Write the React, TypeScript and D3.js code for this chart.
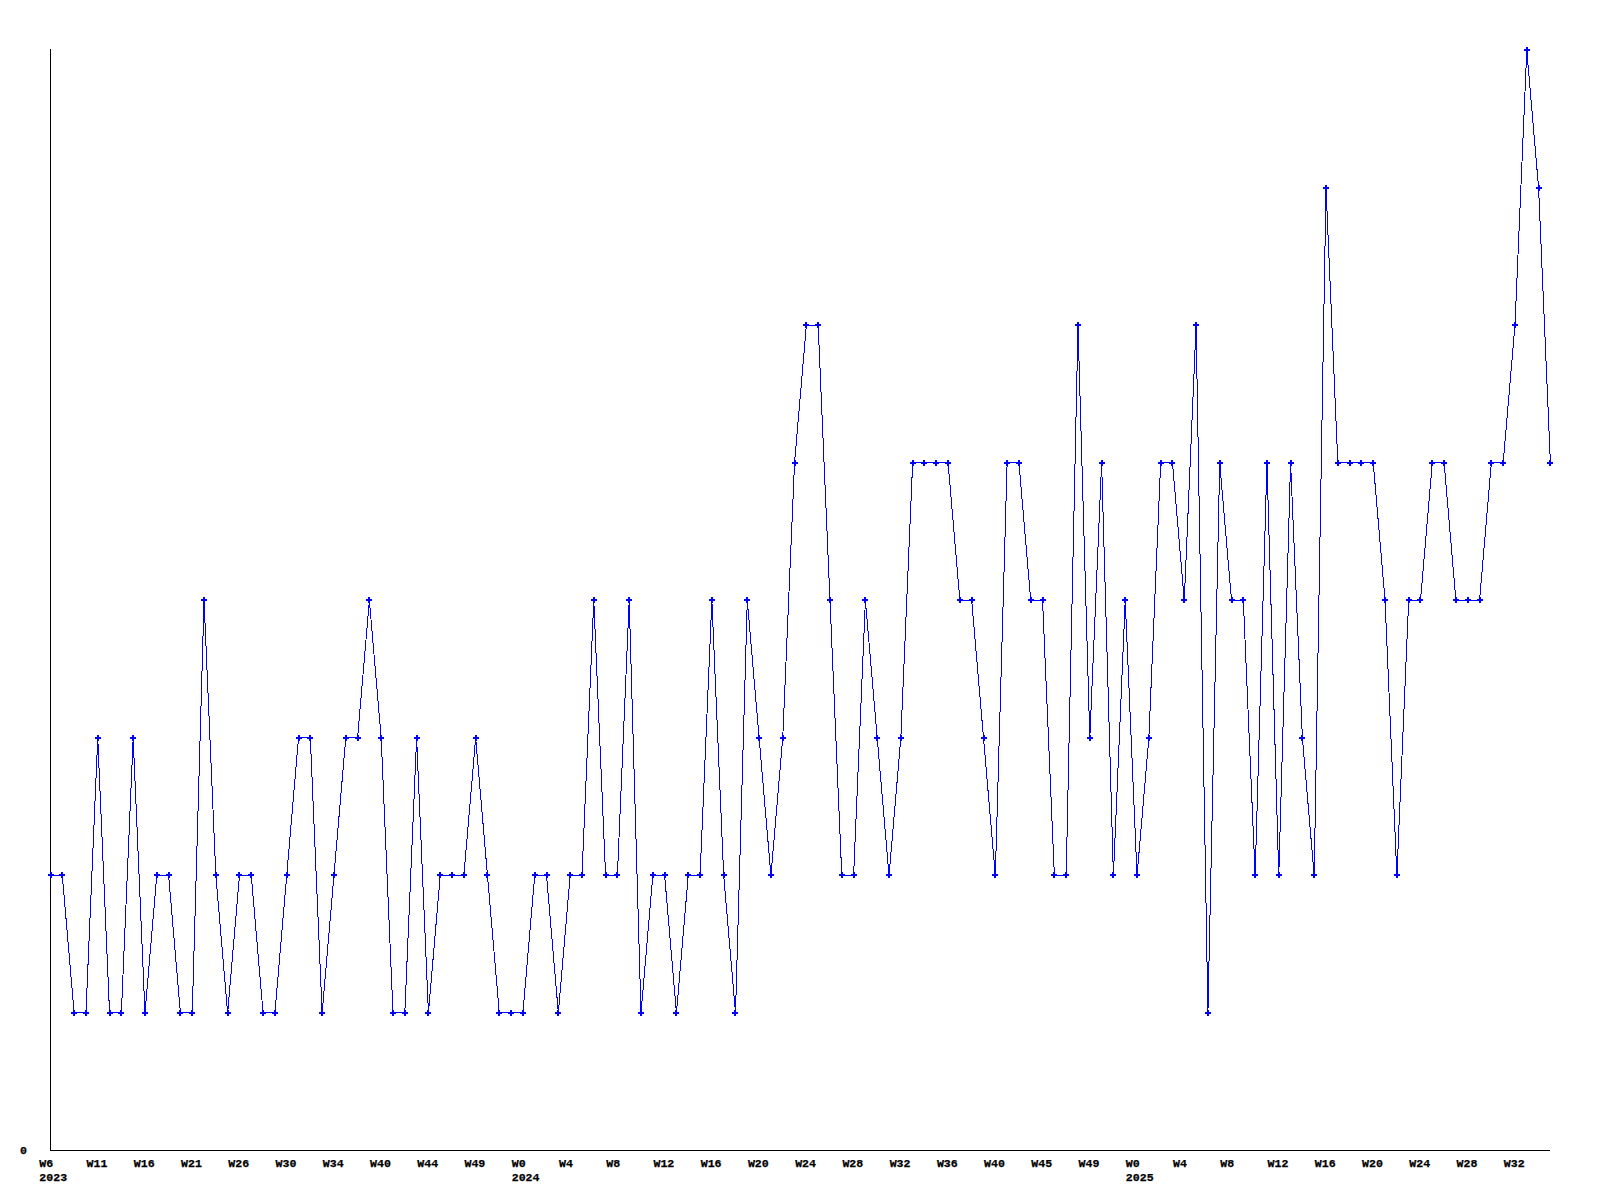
import React from "react";
import * as d3 from "d3";

// Weekly counts (one value per data point, in order)
const values: number[] = [
  2, 2, 1, 1, 3, 1, 1, 3, 1, 2, 2, 1, 1, 4, 2, 1, 2, 2, 1, 1,
  2, 3, 3, 1, 2, 3, 3, 4, 3, 1, 1, 3, 1, 2, 2, 2, 3, 2, 1, 1,
  1, 2, 2, 1, 2, 2, 4, 2, 2, 4, 1, 2, 2, 1, 2, 2, 4, 2, 1, 4,
  3, 2, 3, 5, 6, 6, 4, 2, 2, 4, 3, 2, 3, 5, 5, 5, 5, 4, 4, 3,
  2, 5, 5, 4, 4, 2, 2, 6, 3, 5, 2, 4, 2, 3, 5, 5, 4, 6, 1, 5,
  4, 4, 2, 5, 2, 5, 3, 2, 7, 5, 5, 5, 5, 4, 2, 4, 4, 5, 5, 4,
  4, 4, 5, 5, 6, 8, 7, 5,
];

// Tick labels, one every 4 data points
const tickLabels: string[] = [
  "W6", "W11", "W16", "W21", "W26", "W30", "W34", "W40", "W44", "W49",
  "W0", "W4", "W8", "W12", "W16", "W20", "W24", "W28", "W32", "W36",
  "W40", "W45", "W49", "W0", "W4", "W8", "W12", "W16", "W20", "W24",
  "W28", "W32",
];
const tickEvery = 4;

// Year labels: [data index, label]
const yearLabels: [number, string][] = [
  [0, "2023"],
  [40, "2024"],
  [92, "2025"],
];

const yTickLabels: [number, string][] = [[0, "0"]];
const yMax = 8;

export default function App() {
  const width = 1600;
  const height = 1200;
  const x = d3.scaleLinear().domain([0, values.length - 1]).range([50.5, 1550.4]);
  const y = d3.scaleLinear().domain([0, yMax]).range([1150.5, 50.3]);

  const line = d3
    .line<number>()
    .x((_, i) => x(i))
    .y((d) => y(d));

  const marker = d3.symbol().type(d3.symbolCross).size(20)() as string;
  const font = "'Liberation Mono', 'DejaVu Sans Mono', monospace";
  const fs = 11.6;

  return (
    <svg
      width={width}
      height={height}
      style={{ position: "absolute", left: 0, top: 0, display: "block", background: "#fff" }}
    >
      <rect x={0} y={0} width={width} height={height} fill="#fff" />
      {/* axes */}
      <line x1={x(0)} x2={x(0)} y1={y(yMax) - 1} y2={y(0)} stroke="#000" strokeWidth={1} shapeRendering="crispEdges" />
      <line x1={x(0)} x2={x(values.length - 1)} y1={y(0)} y2={y(0)} stroke="#000" strokeWidth={1} shapeRendering="crispEdges" />
      {/* line */}
      <path d={line(values) || ""} fill="none" stroke="#0000ff" strokeWidth={1} shapeRendering="crispEdges" />
      {values.map((v, i) => (
        <path key={i} d={marker} transform={`translate(${x(i)},${y(v)})`} fill="#0000ff" shapeRendering="crispEdges" />
      ))}
      {/* y tick labels */}
      {yTickLabels.map(([v, t]) => (
        <text key={t} x={20} y={y(v) + 3.5} fontFamily={font} fontWeight="bold" fontSize={fs} fill="#000" stroke="#000" strokeWidth={0.25}>
          {t}
        </text>
      ))}
      {/* x tick labels */}
      {tickLabels.map((t, k) => (
        <text key={k} x={x(k * tickEvery) - 11.2} y={1166.5} fontFamily={font} fontWeight="bold" fontSize={fs} fill="#000" stroke="#000" strokeWidth={0.25}>
          {t}
        </text>
      ))}
      {yearLabels.map(([i, t]) => (
        <text key={t} x={x(i) - 11.2} y={1180.5} fontFamily={font} fontWeight="bold" fontSize={fs} fill="#000" stroke="#000" strokeWidth={0.25}>
          {t}
        </text>
      ))}
    </svg>
  );
}
